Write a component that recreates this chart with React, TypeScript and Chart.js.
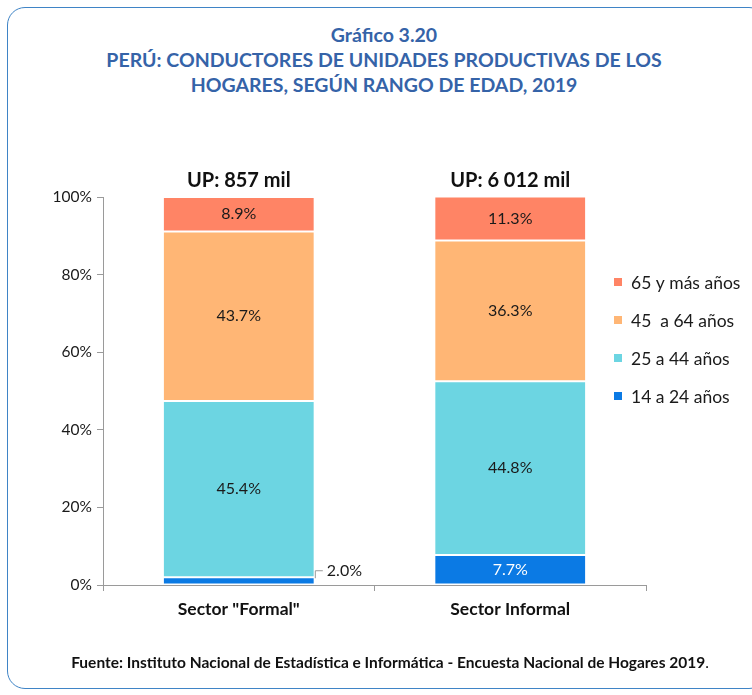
import React, { useEffect, useRef } from "react";
import { Chart, registerables } from "chart.js";

Chart.register(...registerables);

const categories = ['Sector "Formal"', "Sector Informal"];
const upLabels = ["UP: 857 mil", "UP: 6 012 mil"];
const seriesNames = ["14 a 24 años", "25 a 44 años", "45  a 64 años", "65 y más años"];
const s14a24 = [2.0, 7.7];
const s25a44 = [45.4, 44.8];
const s45a64 = [43.7, 36.3];
const s65mas = [8.9, 11.3];
const yTicks = [0, 20, 40, 60, 80, 100];

const colors = ["#0B7AE4", "#6CD5E2", "#FFB675", "#FF8465"];
const FONT = "Lato, 'Open Sans', sans-serif";

const overlayPlugin = {
  id: "overlay",
  afterDatasetsDraw(chart: any) {
    const ctx = chart.ctx;
    ctx.save();
    chart.data.datasets.forEach((ds: any, di: number) => {
      const meta = chart.getDatasetMeta(di);
      meta.data.forEach((el: any, i: number) => {
        const v = ds.data[i];
        const txt = v.toFixed(1) + "%";
        const half = el.width / 2;
        ctx.font = `16px ${FONT}`;
        ctx.textBaseline = "middle";
        if (v < 3) {
          const xr = el.x + half;
          const yt = el.y;
          const ly = yt - 7;
          ctx.strokeStyle = "#9a9a9a";
          ctx.lineWidth = 1;
          ctx.beginPath();
          ctx.moveTo(xr + 1.5, yt + 1);
          ctx.lineTo(xr + 1.5, ly + 0.5);
          ctx.lineTo(xr + 9, ly + 0.5);
          ctx.stroke();
          ctx.fillStyle = "#1a1a1a";
          ctx.textAlign = "left";
          ctx.fillText(txt, xr + 13, ly + 1);
        } else {
          ctx.fillStyle = di === 0 ? "#ffffff" : "#1a1a1a";
          ctx.textAlign = "center";
          ctx.fillText(txt, el.x, (el.y + el.base) / 2);
        }
      });
    });
    const top = chart.getDatasetMeta(chart.data.datasets.length - 1);
    ctx.font = `bold 20px ${FONT}`;
    ctx.fillStyle = "#111";
    ctx.textAlign = "center";
    ctx.textBaseline = "middle";
    top.data.forEach((el: any, i: number) => {
      ctx.fillText(upLabels[i], el.x, chart.chartArea.top - 16);
    });
    const lx = 614;
    const ly0 = 282;
    const step = 38;
    const n = chart.data.datasets.length;
    for (let k = 0; k < n; k++) {
      const di = n - 1 - k;
      const ds = chart.data.datasets[di];
      const y = ly0 + k * step;
      ctx.fillStyle = ds.backgroundColor;
      ctx.fillRect(lx, y - 4, 8, 8);
      ctx.fillStyle = "#1a1a1a";
      ctx.font = `17.5px ${FONT}`;
      ctx.textAlign = "left";
      ctx.textBaseline = "middle";
      ctx.fillText(ds.label, lx + 17, y + 1);
    }
    ctx.restore();
  },
};

export default function App() {
  const ref = useRef<HTMLCanvasElement | null>(null);
  useEffect(() => {
    if (!ref.current) return;
    const series = [s14a24, s25a44, s45a64, s65mas];
    const chart = new Chart(ref.current, {
      type: "bar",
      data: {
        labels: categories,
        datasets: series.map((d, i) => ({
          label: seriesNames[i],
          data: d,
          backgroundColor: colors[i],
          borderColor: "#ffffff",
          borderWidth: { top: 1, bottom: 1, left: 0, right: 0 },
          borderSkipped: false,
          barPercentage: 0.553,
          categoryPercentage: 1,
        })),
      },
      options: {
        animation: false,
        responsive: false,
        maintainAspectRatio: false,
        events: [],
        layout: { padding: { left: 40, top: 197, right: 106, bottom: 70 } },
        plugins: {
          legend: { display: false },
          tooltip: { enabled: false },
          title: { display: false },
        },
        scales: {
          x: {
            stacked: true,
            border: { color: "#9a9a9a", width: 1 },
            grid: {
              offset: true,
              drawOnChartArea: false,
              drawTicks: true,
              tickLength: 6,
              color: "#9a9a9a",
            },
            ticks: {
              color: "#111",
              font: { family: FONT, size: 17.5, weight: "bold" },
              padding: 8,
            },
            afterFit(scale: any) {
              scale.height = 40;
            },
          },
          y: {
            stacked: true,
            min: 0,
            max: 100,
            border: { color: "#9a9a9a", width: 1 },
            grid: {
              drawOnChartArea: false,
              drawTicks: true,
              tickLength: 6,
              color: "#9a9a9a",
            },
            ticks: {
              stepSize: 20,
              color: "#1a1a1a",
              font: { family: FONT, size: 15.5 },
              padding: 5,
              callback: (v: any) => (yTicks.includes(Number(v)) ? v + "%" : ""),
            },
            afterFit(scale: any) {
              scale.width = 63;
            },
          },
        },
      },
      plugins: [overlayPlugin],
    } as any);
    return () => chart.destroy();
  }, []);

  return (
    <div style={{ position: "absolute", left: 0, top: 0, width: 752, height: 695, background: "#fff", fontFamily: FONT }}>
      <div
        style={{
          position: "absolute",
          left: 7,
          top: 7,
          width: 760,
          height: 682,
          border: "1.5px solid #3F84C6",
          borderRadius: 18,
          boxSizing: "border-box",
        }}
      />
      <div
        style={{
          position: "absolute",
          left: 0,
          width: 752,
          top: 22,
          textAlign: "center",
          color: "#3563A8",
          fontWeight: "bold",
          fontSize: 19.5,
          lineHeight: "25px",
          paddingLeft: 16,
          boxSizing: "border-box",
        }}
      >
        <div>Gráfico 3.20</div>
        <div>PERÚ: CONDUCTORES DE UNIDADES PRODUCTIVAS DE LOS</div>
        <div>HOGARES, SEGÚN RANGO DE EDAD, 2019</div>
      </div>
      <canvas ref={ref} width={752} height={695} style={{ position: "absolute", left: 0, top: 0, width: 752, height: 695 }} />
      <div
        style={{
          position: "absolute",
          left: 0,
          width: 752,
          top: 653,
          textAlign: "center",
          fontSize: 15.5,
          color: "#111",
          paddingLeft: 28,
          boxSizing: "border-box",
          whiteSpace: "nowrap",
        }}
      >
        <b>Fuente: Instituto Nacional de Estadística e Informática - Encuesta Nacional de Hogares 2019</b>.
      </div>
    </div>
  );
}
